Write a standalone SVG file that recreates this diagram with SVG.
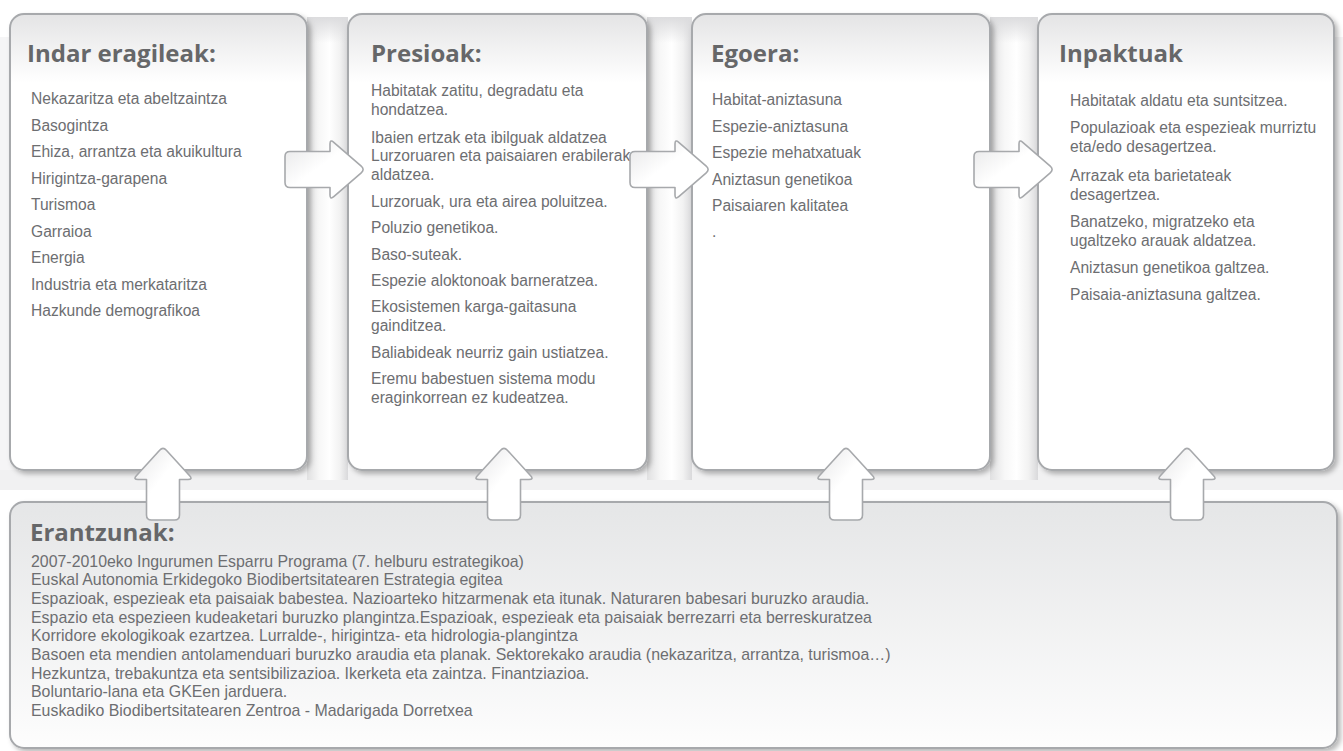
<svg xmlns="http://www.w3.org/2000/svg" width="1343" height="751" viewBox="0 0 1343 751">
<style>
.box{stroke:#a7a9ac;stroke-width:2;}
.hd{font-family:"Open Sans","DejaVu Sans",sans-serif;font-weight:700;font-size:24px;fill:#666769;}
.tx{font-family:"Liberation Sans",Arial,sans-serif;font-size:15.6px;fill:#6d6e71;}
.bt{font-family:"Liberation Sans",Arial,sans-serif;font-size:15.9px;fill:#6d6e71;}
.arr{fill:url(#arrowFill);stroke:#a7a9ac;stroke-width:1.6;stroke-linejoin:round;}
</style>
<defs>
<linearGradient id="boxFill" x1="0" y1="0" x2="0" y2="1"><stop offset="0" stop-color="#e4e4e5"/><stop offset="0.15" stop-color="#ffffff"/><stop offset="1" stop-color="#ffffff"/></linearGradient>
<linearGradient id="baseFill" x1="0" y1="0" x2="0" y2="1"><stop offset="0" stop-color="#e5e6e7"/><stop offset="1" stop-color="#fdfdfd"/></linearGradient>
<linearGradient id="pipe" x1="0" y1="0" x2="1" y2="0"><stop offset="0" stop-color="#e0e0e1"/><stop offset="0.3" stop-color="#f7f7f7"/><stop offset="0.55" stop-color="#ffffff"/><stop offset="0.8" stop-color="#f2f2f2"/><stop offset="1" stop-color="#d9d9db"/></linearGradient>
<linearGradient id="pipeTop" x1="0" y1="0" x2="0" y2="1"><stop offset="0" stop-color="#dcdcde"/><stop offset="1" stop-color="#dcdcde" stop-opacity="0"/></linearGradient>
<linearGradient id="arrowFill" x1="0" y1="0" x2="1" y2="1"><stop offset="0" stop-color="#e6e6e7"/><stop offset="0.45" stop-color="#ffffff"/><stop offset="1" stop-color="#ffffff"/></linearGradient>
<filter id="shadow" x="-5%" y="-5%" width="115%" height="115%"><feDropShadow dx="3" dy="3" stdDeviation="2.5" flood-color="#000" flood-opacity="0.28"/></filter>
<path id="arrowR" d="M -75,-18 L -35,-18 L -35,-25.5 Q -35,-30.5 -31.23,-27.21 L -3.77,-3.29 Q 0,0 -3.77,3.29 L -31.23,27.21 Q -35,30.5 -35,25.5 L -35,18 L -75,18 Q -80,18 -80,13 L -80,-13 Q -80,-18 -75,-18 Z"/>
<path id="arrowU" d="M 3.36,3.70 L 26.64,29.30 Q 30,33 25,33 L 16.5,33 L 16.5,68.5 Q 16.5,73.5 11.5,73.5 L -11.5,73.5 Q -16.5,73.5 -16.5,68.5 L -16.5,33 L -25,33 Q -30,33 -26.64,29.30 L -3.36,3.70 Q 0,0 3.36,3.70 Z"/>
</defs>
<rect width="1343" height="751" fill="#ffffff"/>
<g id="background">
<rect x="0" y="37" width="1343" height="453" fill="#f5f5f6"/>
<rect x="0" y="470" width="1343" height="20" fill="#f1f1f2"/>
<rect x="307" y="17" width="41" height="463" fill="url(#pipe)"/>
<rect x="647" y="17" width="45" height="463" fill="url(#pipe)"/>
<rect x="990" y="17" width="48" height="463" fill="url(#pipe)"/>
<rect x="307" y="17" width="41" height="26" fill="url(#pipeTop)"/>
<rect x="647" y="17" width="45" height="26" fill="url(#pipeTop)"/>
<rect x="990" y="17" width="48" height="26" fill="url(#pipeTop)"/>
</g>
<g id="node-indar">
<rect class="box" x="10" y="14" width="297" height="456" rx="14" fill="url(#boxFill)" filter="url(#shadow)"/>
<text class="hd" x="27" y="62">Indar eragileak:</text>
<text class="tx" x="31" y="104">Nekazaritza eta abeltzaintza</text>
<text class="tx" x="31" y="130.5">Basogintza</text>
<text class="tx" x="31" y="157">Ehiza, arrantza eta akuikultura</text>
<text class="tx" x="31" y="183.5">Hirigintza-garapena</text>
<text class="tx" x="31" y="210">Turismoa</text>
<text class="tx" x="31" y="236.5">Garraioa</text>
<text class="tx" x="31" y="263">Energia</text>
<text class="tx" x="31" y="289.5">Industria eta merkataritza</text>
<text class="tx" x="31" y="316">Hazkunde demografikoa</text>
</g>
<g id="node-presioak">
<rect class="box" x="348" y="14" width="299" height="456" rx="14" fill="url(#boxFill)" filter="url(#shadow)"/>
<text class="hd" x="371" y="62">Presioak:</text>
<text class="tx" x="371" y="96">Habitatak zatitu, degradatu eta</text>
<text class="tx" x="371" y="115">hondatzea.</text>
<text class="tx" x="371" y="142.5">Ibaien ertzak eta ibilguak aldatzea</text>
<text class="tx" x="371" y="161">Lurzoruaren eta paisaiaren erabilerak</text>
<text class="tx" x="371" y="180">aldatzea.</text>
<text class="tx" x="371" y="206.5">Lurzoruak, ura eta airea poluitzea.</text>
<text class="tx" x="371" y="233">Poluzio genetikoa.</text>
<text class="tx" x="371" y="259.5">Baso-suteak.</text>
<text class="tx" x="371" y="286">Espezie aloktonoak barneratzea.</text>
<text class="tx" x="371" y="312">Ekosistemen karga-gaitasuna</text>
<text class="tx" x="371" y="331">gainditzea.</text>
<text class="tx" x="371" y="358">Baliabideak neurriz gain ustiatzea.</text>
<text class="tx" x="371" y="384">Eremu babestuen sistema modu</text>
<text class="tx" x="371" y="403">eraginkorrean ez kudeatzea.</text>
</g>
<g id="node-egoera">
<rect class="box" x="692" y="14" width="298" height="456" rx="14" fill="url(#boxFill)" filter="url(#shadow)"/>
<text class="hd" x="711" y="62">Egoera:</text>
<text class="tx" x="712" y="105">Habitat-aniztasuna</text>
<text class="tx" x="712" y="131.5">Espezie-aniztasuna</text>
<text class="tx" x="712" y="158">Espezie mehatxatuak</text>
<text class="tx" x="712" y="184.5">Aniztasun genetikoa</text>
<text class="tx" x="712" y="211">Paisaiaren kalitatea</text>
<text class="tx" x="712" y="237">.</text>
</g>
<g id="node-inpaktuak">
<rect class="box" x="1038" y="14" width="296" height="456" rx="14" fill="url(#boxFill)" filter="url(#shadow)"/>
<text class="hd" x="1059" y="62">Inpaktuak</text>
<text class="tx" x="1070" y="106">Habitatak aldatu eta suntsitzea.</text>
<text class="tx" x="1070" y="133">Populazioak eta espezieak murriztu</text>
<text class="tx" x="1070" y="152">eta/edo desagertzea.</text>
<text class="tx" x="1070" y="180.5">Arrazak eta barietateak</text>
<text class="tx" x="1070" y="199.5">desagertzea.</text>
<text class="tx" x="1070" y="227">Banatzeko, migratzeko eta</text>
<text class="tx" x="1070" y="246">ugaltzeko arauak aldatzea.</text>
<text class="tx" x="1070" y="273">Aniztasun genetikoa galtzea.</text>
<text class="tx" x="1070" y="300">Paisaia-aniztasuna galtzea.</text>
</g>
<g id="node-erantzunak">
<rect class="box" x="10" y="502" width="1327" height="246" rx="14" fill="url(#baseFill)" filter="url(#shadow)"/>
<text class="hd" x="30" y="540.5">Erantzunak:</text>
<text class="bt" x="31" y="566.5">2007-2010eko Ingurumen Esparru Programa (7. helburu estrategikoa)</text>
<text class="bt" x="31" y="585.2">Euskal Autonomia Erkidegoko Biodibertsitatearen Estrategia egitea</text>
<text class="bt" x="31" y="603.9">Espazioak, espezieak eta paisaiak babestea. Nazioarteko hitzarmenak eta itunak. Naturaren babesari buruzko araudia.</text>
<text class="bt" x="31" y="622.6">Espazio eta espezieen kudeaketari buruzko plangintza.Espazioak, espezieak eta paisaiak berrezarri eta berreskuratzea</text>
<text class="bt" x="31" y="641.3">Korridore ekologikoak ezartzea. Lurralde-, hirigintza- eta hidrologia-plangintza</text>
<text class="bt" x="31" y="660">Basoen eta mendien antolamenduari buruzko araudia eta planak. Sektorekako araudia (nekazaritza, arrantza, turismoa…)</text>
<text class="bt" x="31" y="678.7">Hezkuntza, trebakuntza eta sentsibilizazioa. Ikerketa eta zaintza. Finantziazioa.</text>
<text class="bt" x="31" y="697.4">Boluntario-lana eta GKEen jarduera.</text>
<text class="bt" x="31" y="716.1">Euskadiko Biodibertsitatearen Zentroa - Madarigada Dorretxea</text>
</g>
<g id="connectors">
<use href="#arrowR" class="arr" transform="translate(365,169.5)"/>
<use href="#arrowR" class="arr" transform="translate(710,169.5)"/>
<use href="#arrowR" class="arr" transform="translate(1054,169.5)"/>
<use href="#arrowU" class="arr" transform="translate(163,446.5)"/>
<use href="#arrowU" class="arr" transform="translate(504,446.5)"/>
<use href="#arrowU" class="arr" transform="translate(846,446.5)"/>
<use href="#arrowU" class="arr" transform="translate(1187,446.5)"/>
</g>
</svg>
